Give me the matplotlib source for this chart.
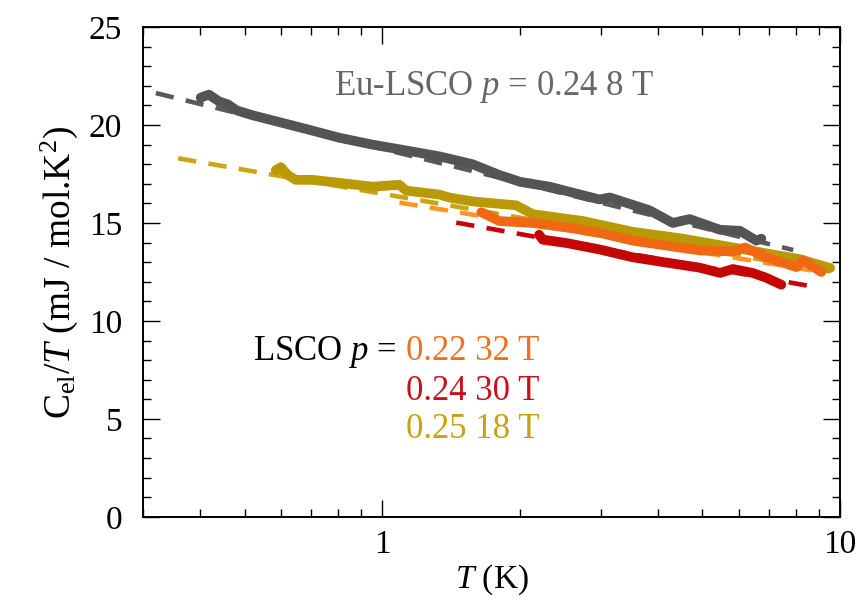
import numpy as np
import matplotlib
matplotlib.use('Agg')
import matplotlib.pyplot as plt
from matplotlib.ticker import MultipleLocator, FixedLocator, NullFormatter

plt.rcParams.update({
    'font.family': ['Liberation Serif', 'DejaVu Serif'],
    'mathtext.fontset': 'custom',
    'mathtext.rm': 'Liberation Serif',
    'mathtext.it': 'Liberation Serif:italic',
    'font.size': 24,
    'xtick.direction': 'in',
    'ytick.direction': 'in',
    'xtick.top': True,
    'ytick.right': True,
})

# Eu-LSCO p = 0.24, 8 T
eu_T = [0.401, 0.418, 0.44, 0.46, 0.48, 0.52, 0.595, 0.681, 0.805, 0.951, 1.127,
        1.332, 1.574, 1.8, 2.0, 2.32, 2.98, 3.14, 3.83, 4.31, 4.69, 5.47, 6.04, 6.56, 6.73]
eu_C = [21.4, 21.55, 21.2, 21.05, 20.75, 20.5, 20.15, 19.8, 19.35, 19.0, 18.7,
        18.4, 18.0, 17.45, 17.1, 16.85, 16.2, 16.3, 15.65, 15.0, 15.2, 14.65, 14.6, 14.1, 14.2]
eu_fit_T = [0.32, 7.9]
eu_fit_C = [21.63, 13.62]

# LSCO p = 0.25, 18 T
y25_T = [0.585, 0.60, 0.621, 0.647, 0.703, 0.805, 0.951, 1.089, 1.127, 1.332, 1.40, 1.574,
         1.96, 2.13, 2.74, 3.52, 4.53, 5.83, 6.9, 8.17, 9.51]
y25_C = [17.7, 17.85, 17.45, 17.2, 17.2, 17.05, 16.85, 16.95, 16.65, 16.45, 16.3, 16.1,
         15.9, 15.45, 15.1, 14.55, 14.2, 13.75, 13.45, 13.15, 12.7]
y25_fit_T = [0.358, 9.51]
y25_fit_C = [18.3, 12.52]

# LSCO p = 0.22, 32 T
o22_T = [1.645, 1.80, 2.13, 2.52, 2.98, 3.52, 4.17, 4.93, 5.83, 6.2, 6.9, 8.03, 8.3, 9.1]
o22_C = [15.55, 15.1, 15.0, 14.78, 14.5, 14.1, 13.85, 13.6, 13.55, 13.75, 13.25, 12.75, 13.1, 12.5]
o22_fit_T = [1.09, 9.1]
o22_fit_C = [16.04, 12.5]

# LSCO p = 0.24, 30 T
r24_T = [2.2, 2.24, 2.52, 2.98, 3.52, 4.17, 4.93, 5.47, 5.83, 6.44, 6.9, 7.44]
r24_C = [14.4, 14.15, 13.98, 13.65, 13.25, 12.98, 12.72, 12.45, 12.65, 12.45, 12.2, 11.85]
r24_fit_T = [1.45, 8.73]
r24_fit_C = [15.02, 11.75]

fig = plt.figure(figsize=(8.59, 6.01), dpi=100)
ax = fig.add_axes([0.1665, 0.14, 0.978 - 0.1665, 0.955 - 0.14])

dash = dict(linewidth=3.3, dashes=(4.0, 2.7), solid_capstyle='butt')
data = dict(linewidth=7, solid_capstyle='round', solid_joinstyle='round')

ax.plot(eu_fit_T, eu_fit_C, color='#5a5a5a', **dash)
ax.plot(y25_fit_T, y25_fit_C, color='#cba512', **dash)
ax.plot(o22_fit_T, o22_fit_C, color='#ff9526', **dash)
ax.plot(r24_fit_T, r24_fit_C, color='#c8000a', **dash)

ax.plot(eu_T, eu_C, color='#545456', **data)
ax.plot(y25_T, y25_C, color='#b99a06', **data)
ax.plot(o22_T, o22_C, color='#f06814', **data)
ax.plot(r24_T, r24_C, color='#c40606', **data)

ax.set_xscale('log')
ax.set_xlim(0.3, 10)
ax.set_ylim(0, 25)
ax.xaxis.set_major_locator(FixedLocator([1, 10]))
ax.set_xticklabels(['1', '10'])
ax.xaxis.set_minor_locator(FixedLocator([0.3, 0.4, 0.5, 0.6, 0.7, 0.8, 0.9,
                                         2, 3, 4, 5, 6, 7, 8, 9]))
ax.xaxis.set_minor_formatter(NullFormatter())
ax.yaxis.set_major_locator(MultipleLocator(5))
ax.yaxis.set_minor_locator(MultipleLocator(1))
ax.tick_params(axis='y', which='major', length=12, width=1.0, pad=15)
ax.tick_params(axis='x', which='major', length=12, width=1.0, pad=9)
ax.tick_params(which='minor', length=6, width=1.0)
for s in ax.spines.values():
    s.set_linewidth(1.4)

ax.set_xlabel(r'$T$ (K)', labelpad=2)
ax.set_ylabel(r'C$_{\mathrm{el}}$/$T$ (mJ / mol.K$^2$)', fontsize=27, labelpad=6)

ax.text(0.504, 0.861, r'Eu-LSCO $p$ = 0.24 8 T', transform=ax.transAxes,
        ha='center', va='baseline', color='#666666', fontsize=25)
ax.text(0.364, 0.320, r'LSCO $p$ =', transform=ax.transAxes, ha='right', va='baseline',
        color='black', fontsize=25)
ax.text(0.377, 0.320, '0.22 32 T', transform=ax.transAxes, ha='left', va='baseline',
        color='#f07020', fontsize=25)
ax.text(0.377, 0.239, '0.24 30 T', transform=ax.transAxes, ha='left', va='baseline',
        color='#c8101a', fontsize=25)
ax.text(0.377, 0.161, '0.25 18 T', transform=ax.transAxes, ha='left', va='baseline',
        color='#c8a010', fontsize=25)

fig.savefig('out.png', dpi=100)
